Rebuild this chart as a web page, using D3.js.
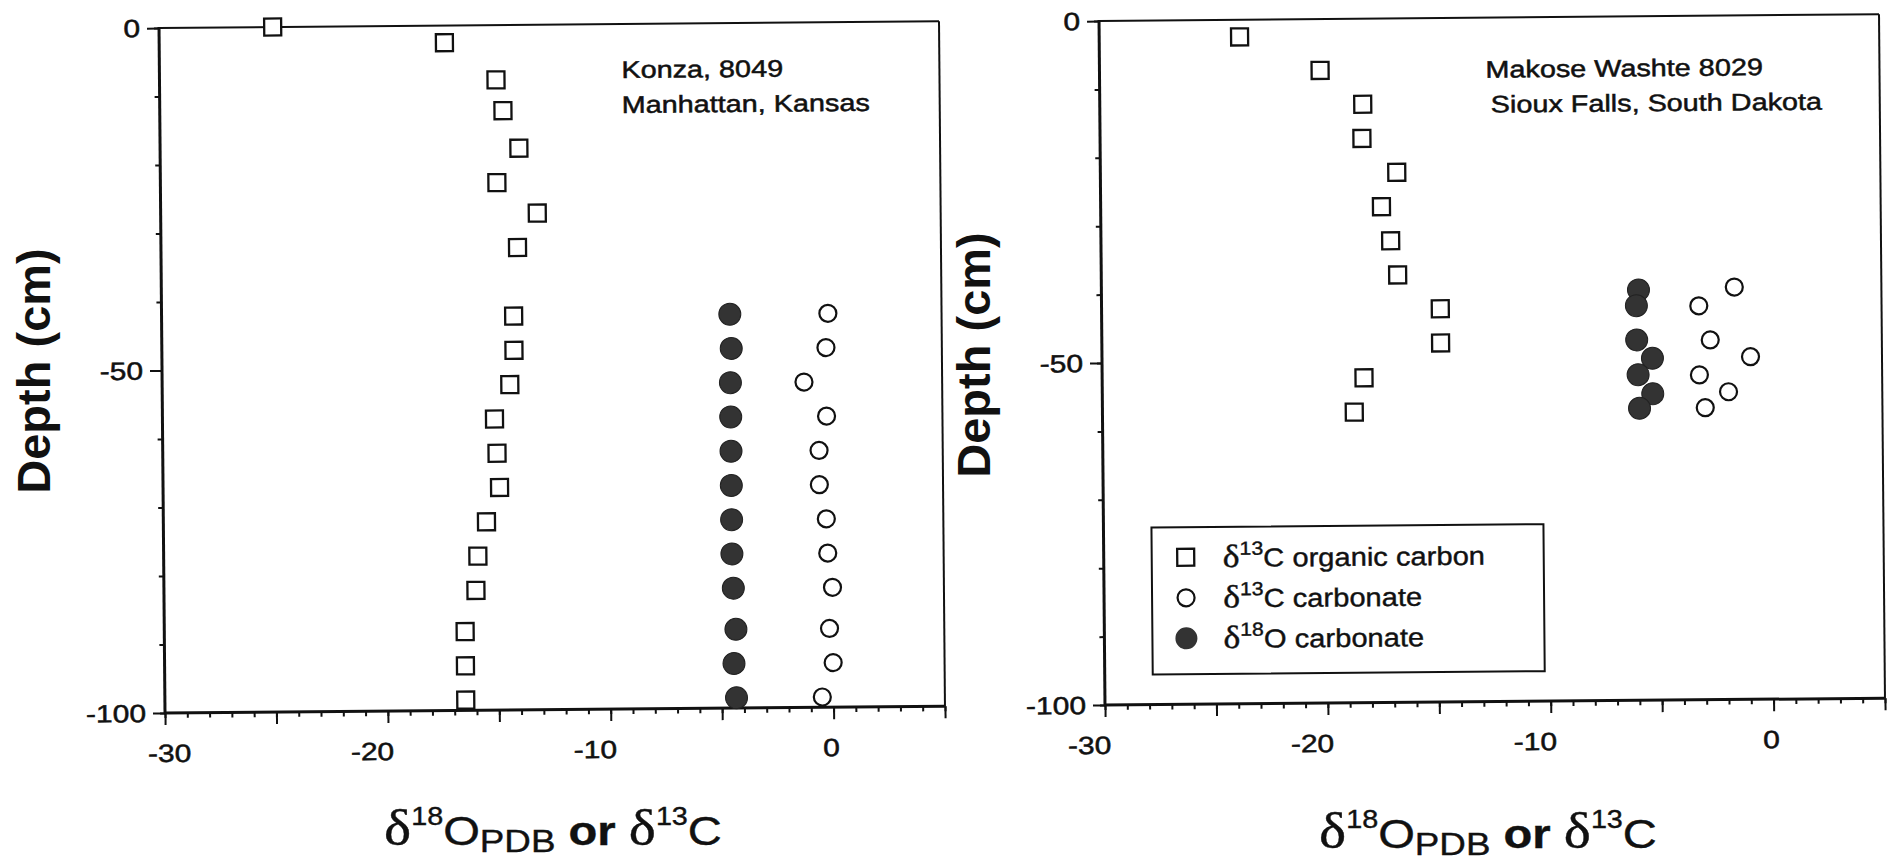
<!DOCTYPE html>
<html>
<head>
<meta charset="utf-8">
<script src="https://cdn.jsdelivr.net/npm/d3@7"></script>
<style>
  body { margin: 0; background: #fff; }
  svg { display: block; }
</style>
</head>
<body>
<div id="chart"></div>
<script>
// ---- Konza, 8049 (Manhattan, Kansas) ----
var konzaOrgDepth = [0, -2.5, -8, -12.5, -18, -23, -27.5, -32.5, -42.5, -47.5, -52.5, -57.5, -62.5, -67.5, -72.5, -77.5, -82.5, -88.5, -93.5, -98.5];
var konzaOrgC = [-24.9, -17.2, -14.9, -14.6, -13.9, -14.9, -13.1, -14.0, -14.2, -14.2, -14.4, -15.1, -15.0, -14.9, -15.5, -15.9, -16.0, -16.5, -16.5, -16.5];
var konzaCarbDepth = [-42.5, -47.5, -52.5, -57.5, -62.5, -67.5, -72.5, -77.5, -82.5, -88.5, -93.5, -98.5];
var konzaCarbC = [-0.1, -0.2, -1.2, -0.2, -0.55, -0.55, -0.25, -0.2, 0, -0.15, 0, -0.5];
var konzaCarbO = [-4.5, -4.45, -4.5, -4.5, -4.5, -4.5, -4.5, -4.5, -4.45, -4.35, -4.45, -4.35];

// ---- Makose Washte 8029 (Sioux Falls, South Dakota) ----
var makoseOrgDepth = [-2.5, -7.5, -12.5, -17.5, -22.5, -27.5, -32.5, -37.5, -42.5, -47.5, -52.5, -57.5];
var makoseOrgC = [-23.7, -20.1, -18.2, -18.25, -16.7, -17.4, -17.0, -16.7, -14.8, -14.8, -18.25, -18.7];
var makoseCarbCDepth = [-39.7, -42.4, -47.4, -49.9, -52.5, -55, -57.3];
var makoseCarbC = [-1.6, -3.2, -2.7, -0.9, -3.2, -1.9, -2.95];
var makoseCarbODepth = [-40, -42.3, -47.3, -50, -52.4, -55.2, -57.3];
var makoseCarbO = [-5.9, -6.0, -6.0, -5.3, -5.95, -5.3, -5.9];

// axis ticks / labels
var xDomain = [-30, 5];
var yDomain = [-100, 0];
var xTickLabels = [-30, -20, -10, 0];
var yTickLabels = [0, -50, -100];
var legendLabels = [
  {iso: "13", el: "C", rest: " organic carbon", kind: "square"},
  {iso: "13", el: "C", rest: " carbonate", kind: "open"},
  {iso: "18", el: "O", rest: " carbonate", kind: "filled"}
];

var width = 1890, height = 862;
var sans = "'Liberation Sans', Arial, Helvetica, sans-serif";
var serif = "'Liberation Serif', 'DejaVu Serif', serif";
var ink = "#111";

var svg = d3.select("#chart").append("svg")
  .attr("width", width).attr("height", height)
  .style("background", "#fff");

// text a little wider and heavier than the font (scanned figure)
function stext(g, x, y, str, size, anchor, sx) {
  return g.append("text")
    .attr("transform", "translate(" + x + "," + y + ") scale(" + (sx || 1.2) + ",1)")
    .attr("text-anchor", anchor || "start")
    .style("font-family", sans)
    .style("font-size", size + "px")
    .style("fill", ink)
    .style("stroke", ink).style("stroke-width", 0.5)
    .text(str);
}

function zip(a, b) {
  return a.map(function(v, i) { return {x: v, y: b[i]}; });
}

function drawPanel(cfg) {
  var W = cfg.w, H = cfg.h;
  var g = svg.append("g")
    .attr("transform", "translate(" + cfg.px + "," + cfg.py + ") rotate(-0.5) translate(0," + (-H) + ")");

  var x = d3.scaleLinear().domain(xDomain).range([0, W]);
  var y = d3.scaleLinear().domain(yDomain).range([H, 0]);

  // minor / major ticks
  function ticks(axis, values, size, tr) {
    var a = g.append("g").attr("transform", tr || null)
      .call(axis.tickValues(values).tickSize(size).tickSizeOuter(0).tickFormat(""));
    a.select(".domain").remove();
    a.selectAll("line").attr("stroke", ink).attr("stroke-width", 2);
  }
  ticks(d3.axisBottom(x), d3.range(-30, 6, 1), 5, "translate(0," + H + ")");
  ticks(d3.axisBottom(x), d3.range(-30, 6, 5), 12, "translate(0," + H + ")");
  ticks(d3.axisLeft(y), d3.range(-100, 1, 10), 5);
  ticks(d3.axisLeft(y), yTickLabels, 12);

  // frame
  g.append("line").attr("x1", 0).attr("y1", 0).attr("x2", W).attr("y2", 0)
    .attr("stroke", ink).attr("stroke-width", 2);
  g.append("line").attr("x1", W).attr("y1", 0).attr("x2", W).attr("y2", H)
    .attr("stroke", ink).attr("stroke-width", 2);
  g.append("line").attr("x1", 0).attr("y1", -1).attr("x2", 0).attr("y2", H + 1)
    .attr("stroke", ink).attr("stroke-width", 3);
  g.append("line").attr("x1", -1).attr("y1", H).attr("x2", W).attr("y2", H)
    .attr("stroke", ink).attr("stroke-width", 3);

  // tick labels
  yTickLabels.forEach(function(v) {
    stext(g, -19, y(v) + 9, String(v), 25, "end");
  });
  xTickLabels.forEach(function(v, i) {
    var shift = i === 0 ? cfg.firstShift : 0;
    stext(g, x(v) + 6 + shift, H + 49, String(v), 25, "end");
  });

  // markers
  var sq = 17;
  g.selectAll("rect.org").data(zip(cfg.orgC, cfg.orgDepth)).enter()
    .append("rect").attr("class", "org")
    .attr("x", function(d) { return x(d.x) - sq / 2; })
    .attr("y", function(d) { return y(d.y) - sq / 2; })
    .attr("width", sq).attr("height", sq)
    .attr("fill", "#fff").attr("stroke", ink).attr("stroke-width", 2.3);

  g.selectAll("circle.cc").data(zip(cfg.carbC, cfg.carbCDepth)).enter()
    .append("circle").attr("class", "cc")
    .attr("cx", function(d) { return x(d.x); })
    .attr("cy", function(d) { return y(d.y); })
    .attr("r", 8.5)
    .attr("fill", "#fff").attr("stroke", ink).attr("stroke-width", 2.2);

  g.selectAll("circle.co").data(zip(cfg.carbO, cfg.carbODepth)).enter()
    .append("circle").attr("class", "co")
    .attr("cx", function(d) { return x(d.x); })
    .attr("cy", function(d) { return y(d.y); })
    .attr("r", 11)
    .attr("fill", "#333").attr("stroke", "#222").attr("stroke-width", 1);

  // site annotation
  stext(g, cfg.note[0], cfg.note[1], cfg.title[0], 24, "start");
  stext(g, cfg.note[2], cfg.note[1] + 35, cfg.title[1], 24, "start");

  return {g: g, x: x, y: y};
}

function axisTitles(yx, yy, xx, xy) {
  svg.append("text")
    .attr("transform", "translate(" + yx + "," + yy + ") rotate(-90)")
    .attr("text-anchor", "middle")
    .style("font-family", sans).style("font-size", "47px").style("font-weight", "bold")
    .style("fill", ink)
    .text("Depth (cm)");

  var t = svg.append("text")
    .attr("transform", "translate(" + xx + "," + xy + ") scale(1.15,1)")
    .attr("text-anchor", "middle")
    .style("font-family", sans).style("font-size", "41px").style("fill", ink)
    .style("stroke", ink).style("stroke-width", 0.4);
  t.append("tspan").style("font-family", serif).style("font-size", "50px").text("δ");
  t.append("tspan").attr("dy", -20).style("font-size", "25px").text("18");
  t.append("tspan").attr("dy", 20).text("O");
  t.append("tspan").attr("dy", 7).style("font-size", "32px").text("PDB");
  t.append("tspan").attr("dy", -7).style("font-weight", "bold").text(" or ");
  t.append("tspan").style("font-family", serif).style("font-size", "50px").text("δ");
  t.append("tspan").attr("dy", -20).style("font-size", "25px").text("13");
  t.append("tspan").attr("dy", 20).text("C");
}

drawPanel({
  px: 165, py: 713, w: 780, h: 685, firstShift: 20,
  orgC: konzaOrgC, orgDepth: konzaOrgDepth,
  carbC: konzaCarbC, carbCDepth: konzaCarbDepth,
  carbO: konzaCarbO, carbODepth: konzaCarbDepth,
  title: ["Konza, 8049", "Manhattan, Kansas"],
  note: [462, 54, 462]
});
axisTitles(50, 371, 553, 845);

var right = drawPanel({
  px: 1105, py: 705, w: 780, h: 684, firstShift: 0,
  orgC: makoseOrgC, orgDepth: makoseOrgDepth,
  carbC: makoseCarbC, carbCDepth: makoseCarbCDepth,
  carbO: makoseCarbO, carbODepth: makoseCarbODepth,
  title: ["Makose Washte 8029", "Sioux Falls, South Dakota"],
  note: [386, 60, 391]
});
axisTitles(990, 355, 1488, 848);

// legend (right panel)
var lg = right.g.append("g").attr("transform", "translate(48,507)");
lg.append("rect").attr("width", 392).attr("height", 147)
  .attr("fill", "#fff").attr("stroke", ink).attr("stroke-width", 2);
var rows = lg.selectAll("g.row").data(legendLabels).enter()
  .append("g").attr("class", "row")
  .attr("transform", function(d, i) { return "translate(34," + (30 + i * 40.5) + ")"; });
rows.filter(function(d) { return d.kind === "square"; })
  .append("rect").attr("x", -8.5).attr("y", -8.5).attr("width", 17).attr("height", 17)
  .attr("fill", "#fff").attr("stroke", ink).attr("stroke-width", 2.3);
rows.filter(function(d) { return d.kind === "open"; })
  .append("circle").attr("r", 8.5)
  .attr("fill", "#fff").attr("stroke", ink).attr("stroke-width", 2.2);
rows.filter(function(d) { return d.kind === "filled"; })
  .append("circle").attr("r", 11).attr("fill", "#333");
rows.each(function(d) {
  var t = d3.select(this).append("text")
    .attr("transform", "translate(37,10) scale(1.12,1)")
    .style("font-family", sans).style("font-size", "26px").style("fill", ink)
    .style("stroke", ink).style("stroke-width", 0.4);
  t.append("tspan").style("font-family", serif).style("font-size", "32px").text("δ");
  t.append("tspan").attr("dy", -12).style("font-size", "19px").text(d.iso);
  t.append("tspan").attr("dy", 12).text(d.el + d.rest);
});
</script>
</body>
</html>
